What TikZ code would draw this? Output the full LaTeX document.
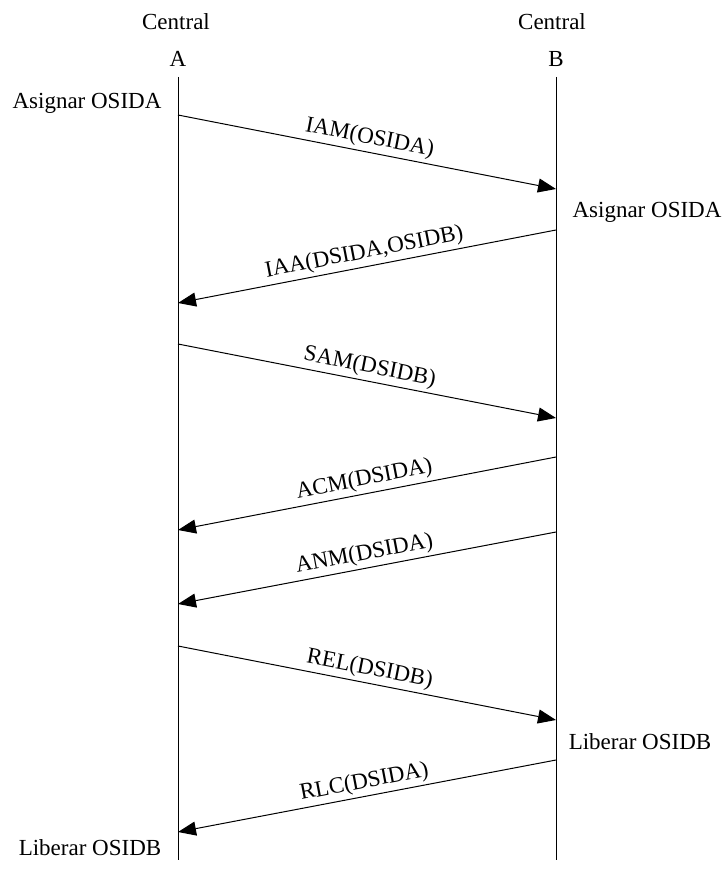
\documentclass[tikz,border=0pt]{standalone}
\usepackage{fontspec}
\setmainfont{Liberation Serif}
\usetikzlibrary{arrows.meta}
\begin{document}
\begin{tikzpicture}[x=0.5pt,y=-0.5pt,font=\fontsize{11.5}{13}\selectfont,
	msg/.style={line width=0.5pt,-{Triangle[length=9pt,width=7pt]}},
	lbl/.style={midway,above,sloped,inner sep=1.5pt}]
	\useasboundingbox (0,0) rectangle (723,877);
	% centrales y lineas de vida
	\node (ca) at (176,22) {Central};
	\node (cb) at (552,22) {Central};
	\node (A) at (178,59) {A};
	\node (B) at (556,59) {B};
	\coordinate (atop) at (178,77); \coordinate (abot) at (178,860);
	\coordinate (btop) at (556,77); \coordinate (bbot) at (556,860);
	\draw[line width=0.5pt] (atop)--(abot) (btop)--(bbot);
	% mensajes A -> B
	\foreach \n/\ya/\yb/\t in {iam/115/189/{IAM(OSIDA)}, sam/344/418/{SAM(DSIDB)}, rel/646/720/{REL(DSIDB)}}{
		\coordinate (\n1) at (178,\ya); \coordinate (\n2) at (556,\yb);
		\draw[msg] (\n1)--(\n2) node[lbl]{\t};}
	% mensajes B -> A
	\foreach \n/\yb/\ya/\t in {iaa/230/303/{IAA(DSIDA,OSIDB)}, acm/457/530/{ACM(DSIDA)}, anm/532/604/{ANM(DSIDA)}, rlc/760/832/{RLC(DSIDA)}}{
		\coordinate (\n1) at (556,\yb); \coordinate (\n2) at (178,\ya);
		\draw[msg] (\n1)--(\n2) node[lbl]{\t};}
	% acciones
	\node (asiga) at (87,103) {Asignar OSIDA};
	\node (asigb) at (647,212) {Asignar OSIDA};
	\node (libb) at (640,742) {Liberar OSIDB};
	\node (liba) at (90,848) {Liberar OSIDB};
\end{tikzpicture}
\end{document}
